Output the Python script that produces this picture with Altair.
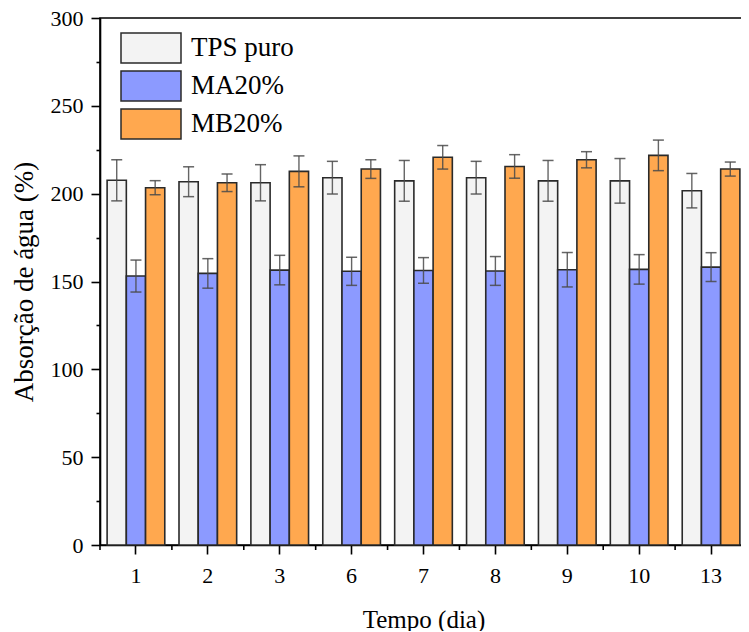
import altair as alt
import pandas as pd

dias = ["1", "2", "3", "6", "7", "8", "9", "10", "13"]
series = ["TPS puro", "MA20%", "MB20%"]
colors = ["#F3F3F3", "#8C9AFF", "#FFA84F"]

tps = [207.6, 206.8, 206.2, 209.1, 207.3, 209.1, 207.3, 207.3, 201.7]
tps_err = [11.7, 8.5, 10.3, 9.3, 11.6, 9.3, 11.6, 12.7, 9.8]
ma = [153.1, 154.6, 156.5, 155.8, 156.3, 156.0, 156.7, 156.9, 158.2]
ma_err = [9.1, 8.4, 8.4, 8.0, 7.3, 8.2, 9.8, 8.4, 8.2]
mb = [203.4, 206.2, 212.7, 214.0, 220.7, 215.5, 219.3, 221.8, 214.0]
mb_err = [4.0, 5.0, 8.8, 5.3, 6.7, 6.7, 4.6, 8.7, 4.0]

rows = []
for s, vals, errs in zip(series, [tps, ma, mb], [tps_err, ma_err, mb_err]):
    for d, v, e in zip(dias, vals, errs):
        rows.append({"dia": d, "serie": s, "valor": v, "lo": v - e, "hi": v + e})
df = pd.DataFrame(rows)

FONT = "Liberation Serif"
W, H = 647, 527

x_enc = alt.X(
    "dia:N", sort=dias,
    scale=alt.Scale(paddingInner=0, paddingOuter=0),
    axis=alt.Axis(title="Tempo (dia)", labelAngle=0, titleFontSize=25,
                  labelPadding=11, titlePadding=21, grid=False),
)
xo_enc = alt.XOffset("serie:N", sort=series,
                     scale=alt.Scale(paddingInner=0, paddingOuter=0.37))
y_scale = alt.Scale(domain=[0, 300], nice=False)

bars = alt.Chart(df).mark_bar(stroke="#2a2a2a", strokeWidth=1.6).encode(
    x=x_enc,
    xOffset=xo_enc,
    y=alt.Y(
        "valor:Q", scale=y_scale,
        axis=alt.Axis(
            title="Absorção de água (%)", values=list(range(0, 301, 25)),
            labelExpr="datum.value % 50 == 0 ? datum.label : ''",
            tickSize={"condition": {"test": "datum.value % 50 == 0", "value": 9}, "value": 4},
            titleFontSize=27, titlePadding=12, grid=False, labelPadding=8,
        ),
    ),
    fill=alt.Fill(
        "serie:N", sort=series,
        scale=alt.Scale(domain=series, range=colors),
        legend=alt.Legend(
            title=None, orient="none", legendX=20, legendY=14,
            symbolType="M-1,-1H3V1H-1Z", symbolSize=900,
            symbolStrokeColor="#2a2a2a", symbolStrokeWidth=1.5, symbolOpacity=1,
            labelFont=FONT, labelFontSize=27, labelColor="black",
            labelOffset=39, rowPadding=2, padding=0,
        ),
    ),
)

err_rule = alt.Chart(df).mark_rule(color="#4a4a4a", strokeWidth=1.4, opacity=0.85).encode(
    x=alt.X("dia:N", sort=dias),
    xOffset=alt.XOffset("serie:N", sort=series),
    y=alt.Y("lo:Q", scale=y_scale),
    y2="hi:Q",
)
cap_hi = alt.Chart(df).mark_tick(color="#4a4a4a", size=11, thickness=1.5, opacity=0.85).encode(
    x=alt.X("dia:N", sort=dias),
    xOffset=alt.XOffset("serie:N", sort=series),
    y=alt.Y("hi:Q", scale=y_scale),
)
cap_lo = alt.Chart(df).mark_tick(color="#4a4a4a", size=11, thickness=1.5, opacity=0.85).encode(
    x=alt.X("dia:N", sort=dias),
    xOffset=alt.XOffset("serie:N", sort=series),
    y=alt.Y("lo:Q", scale=y_scale),
)

minor_x = alt.Chart(pd.DataFrame({"dia": dias})).mark_rule(
    color="black", strokeWidth=1.6, clip=False
).encode(
    x=alt.X("dia:N", sort=dias, bandPosition=0),
    y=alt.value(H),
    y2=alt.value(H + 5),
)

chart = alt.layer(bars, err_rule, cap_hi, cap_lo, minor_x).properties(
    width=W, height=H,
    padding={"left": 92, "top": 10, "right": -6, "bottom": 86},
    autosize=alt.AutoSizeParams(type="none"),
    background="white",
).configure_view(
    stroke="black", strokeWidth=1.6
).configure_axis(
    labelFont=FONT, labelFontSize=22, labelColor="black", labelPadding=7,
    tickSize=9, tickWidth=1.6, tickColor="black",
    domainColor="black", domainWidth=1.6, grid=False,
    titleFont=FONT, titleFontWeight="normal", titleColor="black",
)

chart.save("out.html", embed_options={"renderer": "svg", "actions": False})
